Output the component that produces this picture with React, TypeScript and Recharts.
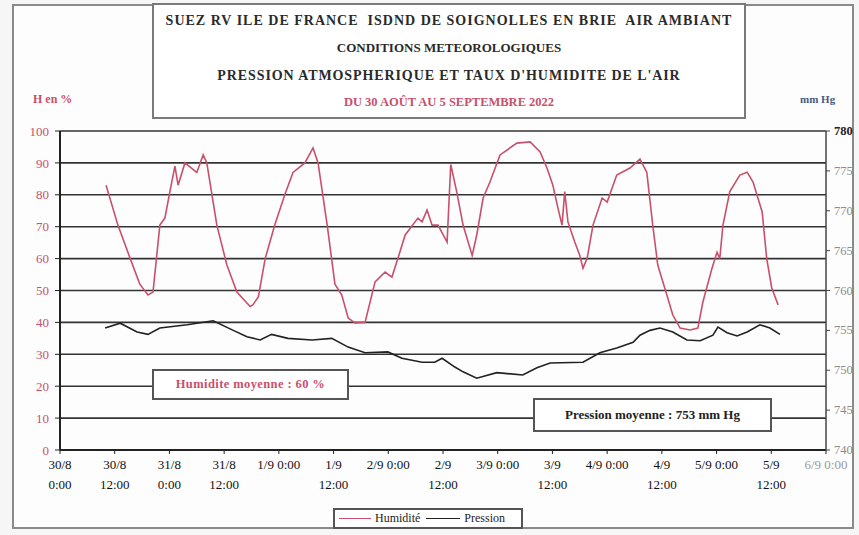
import React from 'react'
import { LineChart, Line, XAxis, YAxis, CartesianGrid } from 'recharts'

// heures depuis le 30/8 0:00
const humHours = [
  10.1, 12.7, 15.4, 17.5, 19.3, 20.4, 21.9, 23, 24.1, 25.2, 25.9, 27.4, 30, 31.4, 32.2, 34.4, 36.6, 38.8,
  41.7, 42.3, 43.5, 45, 47.1, 49.3, 51.1, 53.7, 55.5, 56.6, 58.6, 60.3, 61.8, 63.2, 64.7, 66.9, 69.1, 71.3,
  72.8, 74.1, 75.7, 78.5, 79.4, 80.5, 81.6, 82.9, 84.9, 85.7, 87, 88.4, 90.4, 91.4, 92.8, 94.3, 96.5, 100.2,
  103.1, 105.3, 106.8, 108.1, 109.2, 110.1, 110.7, 111.4, 112.9, 114, 114.7, 115.6, 116.9, 118.9, 120, 122.1,
  125, 127.2, 128.7, 130, 131.1, 133.1, 134.4, 136, 138.2, 139.9, 141, 143, 144.1, 144.7, 145.4, 146.9, 149.1,
  150.7, 152, 154, 155, 156.1, 157.5,
]
const humValues = [
  83, 70.5, 60, 52, 48.6, 49.5, 70.5, 72.7, 81, 89, 83, 90, 87, 92.5, 90, 70.5, 58, 49.5,
  45, 45.5, 48, 60, 70.5, 80, 87, 90, 94.7, 90, 70.5, 52, 48.6, 41.4, 39.8, 40, 52.7, 55.8,
  54.2, 60, 67.4, 72.7, 71.5, 75.2, 70.5, 70.5, 65.2, 89.5, 81, 70.5, 61, 67.4, 79, 84, 92.5, 96.2,
  96.6, 93.4, 88.4, 83, 75.9, 70.5, 81, 71.5, 65.2, 61, 57, 60, 70.5, 79, 77.7, 86.2,
  88.4, 91.2, 87, 70.5, 58, 48.6, 42.3, 38.2, 37.6, 38.2, 46.4, 57, 62, 60, 70.5, 81, 86.2,
  87.1, 84, 74.6, 60, 50.8, 45.5,
]

const presHours = [
  9.9, 13.2, 16.9, 19.3, 21.9, 27.9, 33.6, 38, 41, 43.9, 46.4, 50, 55.3, 59.6, 63.2, 66.9, 71.9, 75,
  79.4, 82.2, 83.8, 86.6, 88.4, 91.4, 95.8, 101.5, 104.6, 107.5, 114.7, 118.4, 122.1, 125.7, 127.2, 129.4,
  131.6, 134.4, 137.5, 140.4, 143.2, 144.3, 146.3, 148.5, 150.7, 153.5, 155.7, 157.9,
]
const presValues = [
  755.3, 755.9, 754.8, 754.5, 755.3, 755.7, 756.2, 755, 754.2, 753.8, 754.5, 754, 753.8, 754, 752.9, 752.2, 752.3, 751.5,
  751, 751, 751.5, 750.4, 749.8, 749, 749.7, 749.4, 750.3, 750.9, 751, 752.2, 752.8, 753.5, 754.4, 755,
  755.3, 754.8, 753.8, 753.7, 754.4, 755.4, 754.7, 754.3, 754.8, 755.7, 755.3, 754.5,
]

const xTicks = [0, 12, 24, 36, 48, 60, 72, 84, 96, 108, 120, 132, 144, 156, 168]
const xLabelTop = ['30/8', '30/8', '31/8', '31/8', '1/9 0:00', '1/9', '2/9 0:00', '2/9', '3/9 0:00', '3/9', '4/9 0:00', '4/9', '5/9 0:00', '5/9', '6/9 0:00']
const xLabelBottom = ['0:00', '12:00', '0:00', '12:00', '', '12:00', '', '12:00', '', '12:00', '', '12:00', '', '12:00', '']
const humTicks = [0, 10, 20, 30, 40, 50, 60, 70, 80, 90, 100]
const presTicks = [740, 745, 750, 755, 760, 765, 770, 775, 780]

const humData = humHours.map((h, i) => ({ h, v: humValues[i] }))
const presData = presHours.map((h, i) => ({ h, v: presValues[i] }))

const SERIF = '"Liberation Serif", "DejaVu Serif", serif'
const RED = '#c9506c'
const INK = '#222'

const XTick = (props: any) => {
  const { x, y, payload } = props
  const i = xTicks.indexOf(payload.value)
  const last = i === xTicks.length - 1
  return (
    <g>
      <text x={x} y={y + 13} textAnchor="middle" fontFamily={SERIF} fontSize={13} fill={last ? '#9a9a9a' : '#111'}>
        {xLabelTop[i]}
      </text>
      <text x={x} y={y + 33} textAnchor="middle" fontFamily={SERIF} fontSize={13} fill="#111">
        {xLabelBottom[i]}
      </text>
    </g>
  )
}

const RightTick = (props: any) => {
  const { x, y, payload } = props
  return (
    <text x={x} y={y + 4} textAnchor="start" fontFamily={SERIF} fontSize={12.5} fontWeight={payload.value === 780 ? 700 : 400}
      fill={payload.value === 780 ? INK : '#8c8c8c'}>
      {payload.value}
    </text>
  )
}

export default function App() {
  return (
    <div style={{ position: 'absolute', left: 0, top: 0, width: 859, height: 535, background: '#f6f6f6', fontFamily: SERIF }}>
      {/* cadre */}
      <div style={{ position: 'absolute', left: 12, top: 4, width: 838, height: 521, border: '2px solid #8a8a8a', background: '#fdfdfd' }} />

      <div style={{ position: 'absolute', left: 0, top: 0 }}>
        <LineChart width={859} height={535} margin={{ top: 131, right: 0, bottom: 35, left: 0 }}>
          <CartesianGrid vertical={false} stroke="#333" strokeWidth={1.6} yAxisId="hum" />
          <XAxis
            type="number"
            dataKey="h"
            domain={[0, 168]}
            ticks={xTicks}
            interval={0}
            height={50}
            tick={<XTick />}
            tickSize={4}
            tickMargin={2}
            axisLine={{ stroke: '#222', strokeWidth: 2 }}
            tickLine={{ stroke: '#222' }}
            allowDataOverflow
          />
          <YAxis
            yAxisId="hum"
            domain={[0, 100]}
            ticks={humTicks}
            interval={0}
            width={60}
            tickSize={5}
            tickMargin={6}
            axisLine={{ stroke: '#222', strokeWidth: 2 }}
            tickLine={{ stroke: '#222' }}
            tick={{ fill: RED, fontSize: 13, fontFamily: SERIF }}
          />
          <YAxis
            yAxisId="pres"
            orientation="right"
            domain={[740, 780]}
            ticks={presTicks}
            interval={0}
            width={33}
            tickSize={4}
            tickMargin={4}
            axisLine={{ stroke: '#444', strokeWidth: 1.5 }}
            tickLine={{ stroke: '#444' }}
            tick={<RightTick />}
          />
          <Line yAxisId="hum" data={humData} dataKey="v" type="linear" stroke={RED} strokeWidth={1.6} dot={false} isAnimationActive={false} />
          <Line yAxisId="pres" data={presData} dataKey="v" type="linear" stroke={INK} strokeWidth={1.6} dot={false} isAnimationActive={false} />
        </LineChart>
      </div>

      {/* titre */}
      <div style={{ position: 'absolute', left: 152, top: 3, width: 590, height: 112, border: '2px solid #7a7a7a', background: '#fff', textAlign: 'center', fontWeight: 700, color: '#2a2a2a' }}>
        <div style={{ position: 'absolute', top: 8, width: '100%', fontSize: 14, letterSpacing: 1 }}>SUEZ RV ILE DE FRANCE&nbsp; ISDND DE SOIGNOLLES EN BRIE&nbsp; AIR AMBIANT</div>
        <div style={{ position: 'absolute', top: 35, width: '100%', fontSize: 13 }}>CONDITIONS METEOROLOGIQUES</div>
        <div style={{ position: 'absolute', top: 63, width: '100%', fontSize: 14, letterSpacing: 0.9 }}>PRESSION ATMOSPHERIQUE ET TAUX D'HUMIDITE DE L'AIR</div>
        <div style={{ position: 'absolute', top: 90, width: '100%', fontSize: 12.5, color: RED }}>DU 30 AOÛT AU 5 SEPTEMBRE 2022</div>
      </div>

      <div style={{ position: 'absolute', left: 33, top: 92, fontSize: 12, fontWeight: 700, color: RED }}>H en %</div>
      <div style={{ position: 'absolute', left: 800, top: 93, fontSize: 11, fontWeight: 700, color: '#4a5a80' }}>mm Hg</div>

      {/* moyennes */}
      <div style={{ position: 'absolute', left: 152, top: 369, width: 193, height: 27, border: '2px solid #555', background: '#fff', color: RED, fontWeight: 700, fontSize: 12.5, lineHeight: '27px', textAlign: 'center', letterSpacing: 0.4 }}>
        Humidite moyenne : 60 %
      </div>
      <div style={{ position: 'absolute', left: 533, top: 398, width: 235, height: 30, border: '2px solid #555', background: '#fff', color: INK, fontWeight: 700, fontSize: 13, lineHeight: '30px', textAlign: 'center' }}>
        Pression moyenne : 753 mm Hg
      </div>

      {/* légende */}
      <div style={{ position: 'absolute', left: 333, top: 508, width: 186, height: 17, border: '2px solid #555', background: '#fff', fontSize: 12, display: 'flex', alignItems: 'center', color: INK }}>
        <span style={{ display: 'inline-block', width: 32, height: 0, borderTop: `1.5px solid ${RED}`, marginLeft: 4, marginRight: 4 }} />
        <span>Humidité</span>
        <span style={{ display: 'inline-block', width: 34, height: 0, borderTop: `1.5px solid ${INK}`, marginLeft: 6, marginRight: 4 }} />
        <span>Pression</span>
      </div>
    </div>
  )
}
